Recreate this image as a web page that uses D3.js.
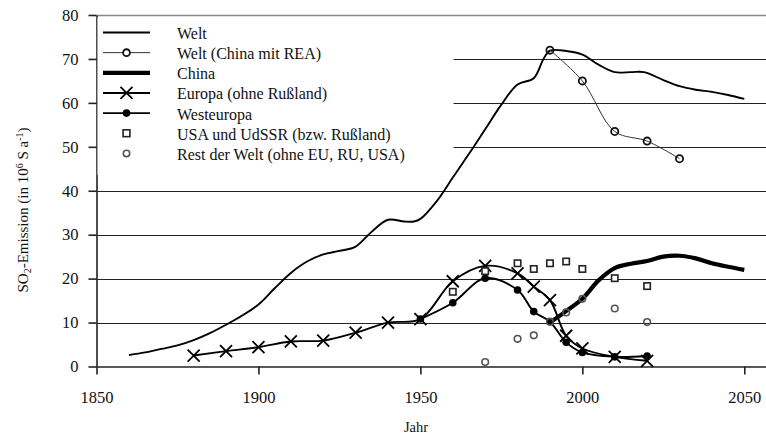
<!DOCTYPE html>
<html>
<head>
<meta charset="utf-8">
<script src="https://cdn.jsdelivr.net/npm/d3@7"></script>
<style>
  html, body { margin: 0; padding: 0; background: #fff; }
  svg { display: block; font-family: "Liberation Serif", "Times New Roman", serif; }
</style>
</head>
<body>
<svg id="chart" width="766" height="439"></svg>
<script>
// SO2 emissions, in 10^6 t S per year
const xTicks = [1850, 1900, 1950, 2000, 2050];
const yTicks = [0, 10, 20, 30, 40, 50, 60, 70, 80];

const welt = [
  [1860, 2.6], [1865, 3.2], [1870, 4.0], [1875, 4.8], [1880, 6.0], [1885, 7.6],
  [1890, 9.5], [1895, 11.6], [1900, 14.1], [1905, 17.8], [1910, 21.3], [1915, 23.9],
  [1920, 25.5], [1925, 26.3], [1930, 27.3], [1935, 30.7], [1940, 33.4], [1945, 33.0],
  [1948, 33.0], [1950, 33.6], [1955, 37.6], [1960, 43.0], [1965, 48.4], [1970, 54.0],
  [1975, 59.6], [1980, 64.2], [1985, 65.6], [1988, 70.0], [1990, 71.9], [1995, 71.8],
  [2000, 71.0], [2005, 68.7], [2010, 67.0], [2015, 67.0], [2019, 67.0], [2025, 65.2],
  [2030, 63.8], [2035, 63.0], [2040, 62.5], [2045, 61.8], [2050, 60.9]
];

const weltREA = [[1990, 72.0], [2000, 65.0], [2010, 53.5], [2020, 51.3], [2030, 47.3]];

const china = [
  [1990, 10.0], [1995, 12.6], [2000, 15.4], [2005, 19.6], [2010, 22.4], [2015, 23.4],
  [2020, 24.0], [2025, 25.0], [2030, 25.2], [2035, 24.6], [2040, 23.5], [2045, 22.7], [2050, 22.0]
];

const europa = [
  [1880, 2.5], [1890, 3.5], [1900, 4.4], [1910, 5.7], [1920, 5.9], [1930, 7.7],
  [1940, 10.0], [1950, 10.8], [1960, 19.4], [1970, 22.9], [1980, 21.2], [1985, 18.2],
  [1990, 15.1], [1995, 7.0], [2000, 4.1], [2010, 2.2], [2020, 1.3]
];

const westeuropa = [
  [1950, 10.8], [1960, 14.5], [1970, 20.1], [1980, 17.4], [1985, 12.5], [1990, 10.2],
  [1995, 5.5], [2000, 3.2], [2010, 2.2], [2020, 2.4]
];

const usaUdssr = [
  [1960, 17.0], [1970, 21.7], [1980, 23.5], [1985, 22.2], [1990, 23.5], [1995, 23.9],
  [2000, 22.2], [2010, 20.1], [2020, 18.3]
];

const restWelt = [
  [1970, 1.0], [1980, 6.3], [1985, 7.1], [1990, 10.2], [1995, 12.3], [2000, 15.4],
  [2010, 13.2], [2020, 10.1]
];

const legendLabels = [
  "Welt", "Welt (China mit REA)", "China", "Europa (ohne Rußland)",
  "Westeuropa", "USA und UdSSR (bzw. Rußland)", "Rest der Welt (ohne EU, RU, USA)"
];

const svg = d3.select("#chart");
const plotLeft = 96.5, plotRight = 766, plotTop = 15, plotBottom = 366.5;

const x = d3.scaleLinear().domain([1850, 2056.7]).range([plotLeft, plotRight]);
const y = d3.scaleLinear().domain([0, 80]).range([plotBottom, plotTop]);

// horizontal gridlines
svg.append("g")
  .selectAll("line")
  .data(yTicks.filter(d => d > 0))
  .join("line")
  .attr("x1", plotLeft).attr("x2", plotRight)
  .attr("y1", d => Math.round(y(d)) + 0.5).attr("y2", d => Math.round(y(d)) + 0.5)
  .attr("stroke", d => d === 80 ? "#888" : "#222")
  .attr("stroke-width", d => d === 80 ? 1.6 : 1);

// axes
const xAxis = svg.append("g")
  .attr("transform", `translate(0,${plotBottom})`)
  .call(d3.axisBottom(x).tickValues(xTicks).tickFormat(d3.format("d"))
    .tickSize(8).tickSizeOuter(0).tickPadding(17));
const yAxis = svg.append("g")
  .attr("transform", `translate(${plotLeft},0)`)
  .call(d3.axisLeft(y).tickValues(yTicks).tickSize(8).tickSizeOuter(0).tickPadding(10));

[xAxis, yAxis].forEach(g => {
  g.selectAll("path, line").attr("stroke", "#222").attr("stroke-width", 1.6);
  g.selectAll("text").attr("fill", "#111").attr("font-size", 16.5)
    .attr("font-family", "Liberation Serif");
});

// legend panel sits above the gridlines
const legendX = plotLeft + 1, legendY = 17;
svg.append("rect")
  .attr("x", legendX).attr("y", legendY)
  .attr("width", 356).attr("height", 158)
  .attr("fill", "#fff");

// series lines
const smooth = d3.line().x(d => x(d[0])).y(d => y(d[1])).curve(d3.curveCatmullRom.alpha(0.5));

svg.append("path").datum(welt).attr("d", smooth)
  .attr("fill", "none").attr("stroke", "#000").attr("stroke-width", 1.9);

svg.append("path").datum(weltREA).attr("d", smooth)
  .attr("fill", "none").attr("stroke", "#333").attr("stroke-width", 1);

svg.append("path").datum(europa).attr("d", smooth)
  .attr("fill", "none").attr("stroke", "#000").attr("stroke-width", 1.9);

svg.append("path").datum(westeuropa).attr("d", smooth)
  .attr("fill", "none").attr("stroke", "#000").attr("stroke-width", 1.9);

svg.append("path").datum(china).attr("d", smooth)
  .attr("fill", "none").attr("stroke", "#000").attr("stroke-width", 4.2)
  .attr("stroke-linejoin", "round");

// markers
const xMark = (sel, s) => sel.attr("d", `M${-s},${-s}L${s},${s}M${-s},${s}L${s},${-s}`)
  .attr("fill", "none").attr("stroke", "#000").attr("stroke-width", 1.8);

svg.append("g").selectAll("path").data(europa).join("path")
  .attr("transform", d => `translate(${x(d[0])},${y(d[1])})`)
  .call(xMark, 6);

svg.append("g").selectAll("circle").data(westeuropa).join("circle")
  .attr("cx", d => x(d[0])).attr("cy", d => y(d[1])).attr("r", 3.8).attr("fill", "#000");

svg.append("g").selectAll("rect").data(usaUdssr).join("rect")
  .attr("x", d => x(d[0]) - 3.2).attr("y", d => y(d[1]) - 3.2)
  .attr("width", 6.4).attr("height", 6.4)
  .attr("fill", "#fff").attr("stroke", "#222").attr("stroke-width", 1.6);

svg.append("g").selectAll("circle").data(restWelt).join("circle")
  .attr("cx", d => x(d[0])).attr("cy", d => y(d[1])).attr("r", 3.3)
  .attr("fill", "none").attr("stroke", "#555").attr("stroke-width", 1.6);

svg.append("g").selectAll("circle").data(weltREA).join("circle")
  .attr("cx", d => x(d[0])).attr("cy", d => y(d[1])).attr("r", 3.6)
  .attr("fill", "none").attr("stroke", "#111").attr("stroke-width", 1.8);

// legend entries
const legend = svg.append("g");
const rowY = i => 32.5 + i * 20.15;
const sx1 = 103, sx2 = 150, sxm = 126.5;
const lineStyle = [
  { w: 1.9, c: "#000" }, { w: 1, c: "#333" }, { w: 4.2, c: "#000" },
  { w: 1.9, c: "#000" }, { w: 1.9, c: "#000" }, null, null
];
legendLabels.forEach((label, i) => {
  const cy = rowY(i);
  const st = lineStyle[i];
  if (st) {
    legend.append("line").attr("x1", sx1).attr("x2", sx2).attr("y1", cy).attr("y2", cy)
      .attr("stroke", st.c).attr("stroke-width", st.w);
  }
  if (i === 1) {
    legend.append("circle").attr("cx", sxm).attr("cy", cy).attr("r", 3.4)
      .attr("fill", "#fff").attr("stroke", "#111").attr("stroke-width", 1.8);
  } else if (i === 3) {
    legend.append("path").attr("transform", `translate(${sxm},${cy})`).call(xMark, 6);
  } else if (i === 4) {
    legend.append("circle").attr("cx", sxm).attr("cy", cy).attr("r", 3.8).attr("fill", "#000");
  } else if (i === 5) {
    legend.append("rect").attr("x", sxm - 3.4).attr("y", cy - 3.4).attr("width", 6.8).attr("height", 6.8)
      .attr("fill", "#fff").attr("stroke", "#222").attr("stroke-width", 1.6);
  } else if (i === 6) {
    legend.append("circle").attr("cx", sxm).attr("cy", cy).attr("r", 3.2)
      .attr("fill", "#fff").attr("stroke", "#555").attr("stroke-width", 1.6);
  }
  legend.append("text").attr("x", 177).attr("y", cy + 6.5)
    .attr("font-size", 16).attr("fill", "#111").text(label);
});

// axis titles
svg.append("text").attr("x", 416).attr("y", 432).attr("text-anchor", "middle")
  .attr("font-size", 14.5).attr("fill", "#111").text("Jahr");

const yt = svg.append("text")
  .attr("transform", "translate(28,210) rotate(-90)")
  .attr("text-anchor", "middle").attr("font-size", 15).attr("fill", "#111");
yt.append("tspan").text("SO");
yt.append("tspan").attr("font-size", 10).attr("dy", 3).text("2");
yt.append("tspan").attr("dy", -3).text("-Emission (in 10");
yt.append("tspan").attr("font-size", 10).attr("dy", -5).text("6");
yt.append("tspan").attr("dy", 5).text(" S a");
yt.append("tspan").attr("font-size", 10).attr("dy", -5).text("-1");
yt.append("tspan").attr("dy", 5).text(")");
</script>
</body>
</html>
